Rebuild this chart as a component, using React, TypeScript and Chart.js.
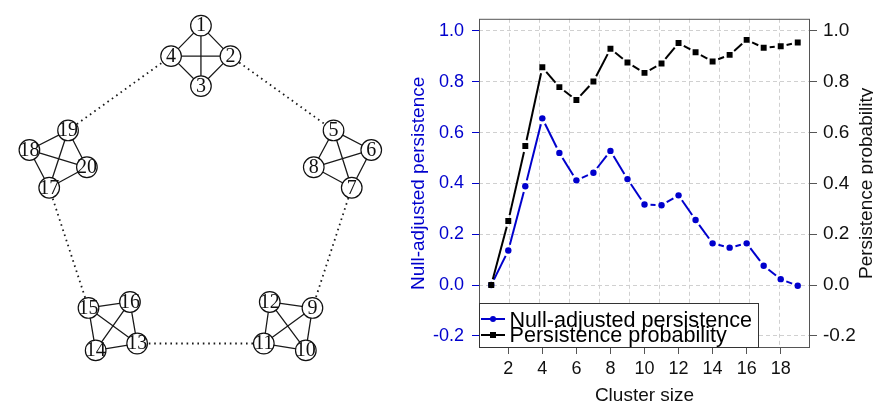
import React, { useEffect, useRef } from "react";
import { Chart, registerables } from "chart.js";

Chart.register(...registerables);

// ---------------- Right chart data ----------------
const clusterSizes = [1, 2, 3, 4, 5, 6, 7, 8, 9, 10, 11, 12, 13, 14, 15, 16, 17, 18, 19];
const nullAdjusted = [0, 0.136, 0.389, 0.656, 0.52, 0.412, 0.442, 0.528, 0.417, 0.317, 0.314, 0.353, 0.256, 0.164, 0.147, 0.164, 0.076, 0.023, -0.003];
const persistenceProb = [0, 0.252, 0.547, 0.857, 0.779, 0.728, 0.801, 0.93, 0.876, 0.835, 0.872, 0.953, 0.916, 0.88, 0.906, 0.965, 0.934, 0.94, 0.955];
const seriesLabels = ["Null-adjusted persistence", "Persistence probability"];
const xTickValues = [2, 4, 6, 8, 10, 12, 14, 16, 18];
const yTickValues = [-0.2, 0, 0.2, 0.4, 0.6, 0.8, 1.0];
const xRange = [0.28, 19.72];
const yRange = [-0.248, 1.048];
const gridDivisions = 11;
const xTitle = "Cluster size";
const yLeftTitle = "Null-adjusted persistence";
const yRightTitle = "Persistence probability";

// ---------------- Network data ----------------
const nodeIds = [1, 2, 3, 4, 5, 6, 7, 8, 9, 10, 11, 12, 13, 14, 15, 16, 17, 18, 19, 20];
const nodeX = [201, 232.3, 201, 169.3, 341.7, 381.7, 361, 320.7, 319.3, 312.3, 267.7, 274, 133.3, 89.3, 81.7, 125.7, 40, 19, 60, 80];
const nodeY = [15, 47.3, 79, 47.3, 126, 146.7, 186.7, 165, 314, 359, 351.7, 307.7, 351.7, 359, 314, 307.7, 186.7, 146.7, 126, 165];
const clusterEdges = [
  [1, 2], [2, 3], [3, 4], [4, 1], [1, 3], [2, 4],
  [5, 6], [6, 7], [7, 8], [8, 5], [5, 7], [6, 8],
  [9, 10], [10, 11], [11, 12], [12, 9], [9, 11], [10, 12],
  [13, 14], [14, 15], [15, 16], [16, 13], [13, 15], [14, 16],
  [17, 18], [18, 19], [19, 20], [20, 17], [17, 19], [18, 20],
];
const bridgeEdges = [[2, 5], [7, 9], [11, 13], [15, 17], [19, 4]];

const BLUE = "#0000CD";
const SANS = "'Liberation Sans', Arial, Helvetica, sans-serif";
const SERIF = "'Liberation Serif', 'Times New Roman', serif";
const GRID = "#d0d0d0";
const FRAME = "#555555";

Chart.defaults.font.family = SANS;
Chart.defaults.color = "#111111";

// R "type = b": each segment is drawn with a gap at both ends
const typeBGap = (gap: number) => (ctx: any) => {
  const L = Math.hypot(ctx.p1.x - ctx.p0.x, ctx.p1.y - ctx.p0.y);
  if (!isFinite(L) || L <= 2 * gap) return [0, Math.max(L, 1)];
  return [0, gap, L - 2 * gap, gap];
};

function nodePoint(id: number) {
  const i = nodeIds.indexOf(id);
  return { x: nodeX[i], y: nodeY[i] };
}

function edgeData(edges: number[][]) {
  const out: any[] = [];
  edges.forEach(([a, b]) => {
    out.push(nodePoint(a), nodePoint(b), { x: NaN, y: NaN });
  });
  return out;
}

function NetworkChart() {
  const ref = useRef<HTMLCanvasElement>(null);
  useEffect(() => {
    const labelPlugin = {
      id: "nodeLabels",
      afterDatasetsDraw(chart: any) {
        const { ctx, scales } = chart;
        ctx.save();
        ctx.fillStyle = "#111";
        ctx.font = `20px ${SERIF}`;
        ctx.textAlign = "center";
        ctx.textBaseline = "middle";
        nodeIds.forEach((id, i) => {
          const px = scales.x.getPixelForValue(nodeX[i]);
          const py = scales.y.getPixelForValue(nodeY[i]);
          ctx.fillText(String(id), px, py + 0.5);
        });
        ctx.restore();
      },
    };
    const chart = new Chart(ref.current!, {
      type: "scatter",
      data: {
        datasets: [
          {
            data: nodeIds.map((id) => nodePoint(id)),
            showLine: false,
            pointRadius: 10.3,
            pointBackgroundColor: "#ffffff",
            pointBorderColor: "#111111",
            pointBorderWidth: 1.2,
            order: 0,
          } as any,
          {
            data: edgeData(clusterEdges),
            showLine: true,
            pointRadius: 0,
            borderColor: "#1a1a1a",
            borderWidth: 1.3,
            spanGaps: false,
            order: 1,
          },
          {
            data: edgeData(bridgeEdges),
            showLine: true,
            pointRadius: 0,
            borderColor: "#1a1a1a",
            borderWidth: 1.8,
            borderDash: [1.6, 3.8],
            spanGaps: false,
            order: 2,
          },
        ],
      },
      options: {
        responsive: false,
        animation: false,
        events: [],
        layout: { padding: 0 },
        scales: {
          x: { type: "linear", display: false, min: 0, max: 400 },
          y: { type: "linear", display: false, min: 0, max: 411, reverse: true },
        },
        plugins: { legend: { display: false }, tooltip: { enabled: false } },
      },
      plugins: [labelPlugin],
    });
    return () => chart.destroy();
  }, []);
  return (
    <canvas
      ref={ref}
      width={400}
      height={411}
      style={{ position: "absolute", left: 0, top: 0, width: 400, height: 411 }}
    />
  );
}

function PersistenceChart() {
  const ref = useRef<HTMLCanvasElement>(null);
  useEffect(() => {
    const gridXs: number[] = [];
    for (let k = 1; k < gridDivisions; k++) {
      gridXs.push(xRange[0] + (k * (xRange[1] - xRange[0])) / gridDivisions);
    }
    const decor = {
      id: "frameLegend",
      afterDatasetsDraw(chart: any) {
        const { ctx, chartArea: a } = chart;
        ctx.save();
        // frame
        ctx.strokeStyle = FRAME;
        ctx.lineWidth = 1;
        ctx.strokeRect(a.left + 0.5, a.top + 0.5, a.right - a.left - 1, a.bottom - a.top - 1);
        // legend
        const lx = a.left + 0.5;
        const ly = a.bottom - 44.5;
        const lw = 279;
        const lh = 44;
        ctx.fillStyle = "#ffffff";
        ctx.fillRect(lx, ly, lw, lh);
        ctx.strokeStyle = "#333333";
        ctx.strokeRect(lx, ly, lw, lh);
        const rows = [
          { color: BLUE, y: a.bottom - 29, base: a.bottom - 21.5, marker: "circle" },
          { color: "#000000", y: a.bottom - 13, base: a.bottom - 6, marker: "rect" },
        ];
        rows.forEach((r, i) => {
          ctx.strokeStyle = r.color;
          ctx.fillStyle = r.color;
          ctx.lineWidth = 2;
          ctx.setLineDash([]);
          ctx.beginPath();
          ctx.moveTo(a.left + 2, r.y);
          ctx.lineTo(a.left + 26, r.y);
          ctx.stroke();
          if (r.marker === "circle") {
            ctx.beginPath();
            ctx.arc(a.left + 14, r.y, 3, 0, Math.PI * 2);
            ctx.fill();
          } else {
            ctx.fillRect(a.left + 11, r.y - 3, 6, 6);
          }
          ctx.fillStyle = "#000000";
          ctx.font = `21.6px ${SANS}`;
          ctx.textAlign = "left";
          ctx.textBaseline = "alphabetic";
          ctx.fillText(seriesLabels[i], a.left + 30.5, r.base);
        });
        // right axis title (reads bottom-to-top)
        ctx.fillStyle = "#111111";
        ctx.font = `19px ${SANS}`;
        ctx.textAlign = "center";
        ctx.textBaseline = "alphabetic";
        ctx.translate(a.right + 61.6, (a.top + a.bottom) / 2);
        ctx.rotate(-Math.PI / 2);
        ctx.fillText(yRightTitle, 0, 0);
        ctx.restore();
      },
    };

    const chart = new Chart(ref.current!, {
      type: "line",
      data: {
        datasets: [
          {
            label: seriesLabels[0],
            data: clusterSizes.map((c, i) => ({ x: c, y: nullAdjusted[i] })),
            borderColor: BLUE,
            backgroundColor: BLUE,
            borderWidth: 2,
            pointStyle: "circle",
            pointRadius: 3.2,
            pointBorderWidth: 0,
            tension: 0,
            order: 1,
            xAxisID: "x",
            yAxisID: "y",
            segment: { borderDash: typeBGap(6) },
          } as any,
          {
            label: seriesLabels[1],
            data: clusterSizes.map((c, i) => ({ x: c, y: persistenceProb[i] })),
            borderColor: "#000000",
            backgroundColor: "#000000",
            borderWidth: 2,
            pointStyle: "rect",
            pointRadius: 4.2,
            pointBorderWidth: 0,
            tension: 0,
            order: 0,
            xAxisID: "x",
            yAxisID: "y",
            segment: { borderDash: typeBGap(6) },
          } as any,
        ],
      },
      options: {
        responsive: false,
        animation: false,
        events: [],
        layout: { padding: { top: 16, left: 0, right: 0, bottom: 0 } },
        scales: {
          x: {
            type: "linear",
            position: "bottom",
            min: xRange[0],
            max: xRange[1],
            afterBuildTicks: (s: any) => {
              s.ticks = xTickValues.map((v) => ({ value: v }));
            },
            afterFit: (s: any) => {
              s.height = 63;
            },
            ticks: { font: { size: 18 }, color: "#111", padding: 4, autoSkip: false, maxRotation: 0 },
            grid: { drawOnChartArea: false, drawTicks: true, tickLength: 6, tickColor: FRAME },
            border: { display: false },
            title: { display: true, text: xTitle, font: { size: 19 }, color: "#111", padding: { top: 0, bottom: 4 } },
          },
          xg: {
            type: "linear",
            position: "bottom",
            min: xRange[0],
            max: xRange[1],
            afterBuildTicks: (s: any) => {
              s.ticks = gridXs.map((v) => ({ value: v }));
            },
            afterFit: (s: any) => {
              s.height = 0;
            },
            ticks: { display: false },
            grid: { color: GRID, drawTicks: false, drawOnChartArea: true },
            border: { display: false, dash: [4, 3] },
          },
          y: {
            type: "linear",
            position: "left",
            min: yRange[0],
            max: yRange[1],
            afterBuildTicks: (s: any) => {
              s.ticks = yTickValues.map((v) => ({ value: v }));
            },
            afterFit: (s: any) => {
              s.width = 79;
            },
            ticks: {
              font: { size: 18 },
              color: BLUE,
              padding: 8,
              autoSkip: false,
              callback: (v: any) => Number(v).toFixed(1),
            },
            grid: { color: GRID, drawTicks: true, tickLength: 7, tickColor: BLUE, tickBorderDash: [] },
            border: { display: false, dash: [4, 3] },
            title: { display: true, text: yLeftTitle, font: { size: 19 }, color: BLUE, padding: { top: 7.6, bottom: 0 } },
          },
          y2: {
            type: "linear",
            position: "right",
            min: yRange[0],
            max: yRange[1],
            afterBuildTicks: (s: any) => {
              s.ticks = yTickValues.map((v) => ({ value: v }));
            },
            afterFit: (s: any) => {
              s.width = 63;
            },
            ticks: {
              font: { size: 19 },
              color: "#111",
              padding: 6,
              autoSkip: false,
              callback: (v: any) => Number(v).toFixed(1),
            },
            grid: { drawOnChartArea: false, drawTicks: true, tickLength: 7, tickColor: FRAME },
            border: { display: false },
          },
        },
        plugins: { legend: { display: false }, tooltip: { enabled: false } },
      } as any,
      plugins: [decor],
    });
    return () => chart.destroy();
  }, []);
  return (
    <canvas
      ref={ref}
      width={473}
      height={411}
      style={{ position: "absolute", left: 400, top: 0, width: 473, height: 411 }}
    />
  );
}

export default function App() {
  return (
    <div
      style={{
        position: "fixed",
        left: 0,
        top: 0,
        width: 873,
        height: 411,
        background: "#ffffff",
        overflow: "hidden",
      }}
    >
      <NetworkChart />
      <PersistenceChart />
    </div>
  );
}
